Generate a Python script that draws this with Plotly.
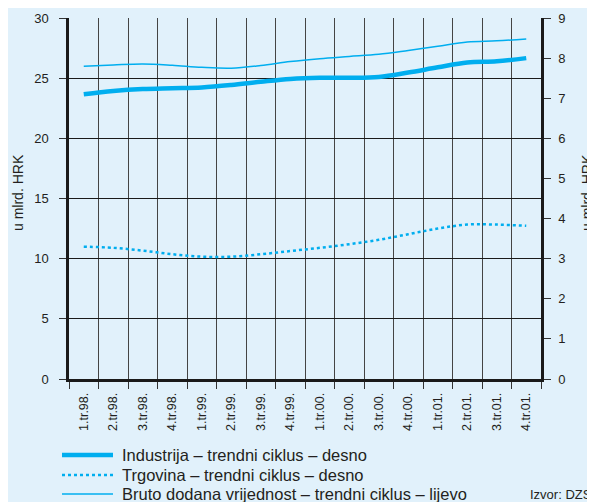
import plotly.graph_objects as go

categories = ["1.tr.98.", "2.tr.98.", "3.tr.98.", "4.tr.98.",
              "1.tr.99.", "2.tr.99.", "3.tr.99.", "4.tr.99.",
              "1.tr.00.", "2.tr.00.", "3.tr.00.", "4.tr.00.",
              "1.tr.01.", "2.tr.01.", "3.tr.01.", "4.tr.01."]

industrija = [7.10, 7.18, 7.23, 7.25, 7.27, 7.33, 7.41, 7.48,
              7.51, 7.51, 7.53, 7.64, 7.77, 7.89, 7.92, 8.00]
trgovina = [3.30, 3.27, 3.20, 3.11, 3.05, 3.05, 3.11, 3.19,
            3.27, 3.36, 3.47, 3.61, 3.75, 3.85, 3.85, 3.82]
bruto = [26.00, 26.10, 26.18, 26.07, 25.90, 25.83, 26.05, 26.38,
         26.62, 26.80, 26.98, 27.30, 27.65, 28.00, 28.10, 28.26]

legend_names = ["Industrija – trendni ciklus – desno",
                "Trgovina – trendni ciklus – desno",
                "Bruto dodana vrijednost – trendni ciklus – lijevo"]
source_text = "Izvor: DZS"
y_title = "u mlrd. HRK"

left_ticks = [0, 5, 10, 15, 20, 25, 30]
right_ticks = [0, 1, 2, 3, 4, 5, 6, 7, 8, 9]

BG = "#E1F1FB"
LINE = "#00AEEF"
FONT = "Liberation Sans, Arial, sans-serif"
TXT = "#231F20"

# page body has an 8px margin: figure coordinates = screen - 8
OFF = 8
W, H = 595 - OFF, 502 - OFF
L, R, T, B = 61, 54, 10, 123
PW, PH = W - L - R, H - T - B


def px(x):
    return (x - OFF - L) / PW


def py(y):
    return (H - B - (y - OFF)) / PH


fig = go.Figure()
fig.add_trace(go.Scatter(x=categories, y=bruto, mode="lines", yaxis="y",
                         line=dict(color=LINE, width=1.5, shape="spline"),
                         name=legend_names[2], showlegend=False))
fig.add_trace(go.Scatter(x=categories, y=industrija, mode="lines", yaxis="y2",
                         line=dict(color=LINE, width=4.5, shape="spline"),
                         name=legend_names[0], showlegend=False))
fig.add_trace(go.Scatter(x=categories, y=trgovina, mode="lines", yaxis="y2",
                         line=dict(color=LINE, width=2.5, dash="dot", shape="spline"),
                         name=legend_names[1], showlegend=False))

# manual legend (screen coordinates)
leg_y = [455, 475, 494]
leg_dash = ["solid", "dot", "solid"]
leg_w = [4.5, 2.5, 1.5]
for i, name in enumerate(legend_names):
    fig.add_shape(type="line", xref="paper", yref="paper",
                  x0=px(62), x1=px(113), y0=py(leg_y[i]), y1=py(leg_y[i]),
                  line=dict(color=LINE, width=leg_w[i], dash=leg_dash[i]))
    fig.add_annotation(text=name, xref="paper", yref="paper",
                       x=px(120), y=py(leg_y[i]),
                       xanchor="left", yanchor="middle", showarrow=False,
                       font=dict(family=FONT, size=16.5, color=TXT))

fig.add_annotation(text=source_text, xref="paper", yref="paper",
                   x=px(594), y=py(494),
                   xanchor="right", yanchor="middle", showarrow=False,
                   font=dict(family=FONT, size=13, color=TXT))

# axis titles (placed as in the reference)
for xs in (18, 587):
    fig.add_annotation(text=y_title, xref="paper", yref="paper",
                       x=px(xs), y=py(193), textangle=-90,
                       xanchor="center", yanchor="middle", showarrow=False,
                       font=dict(family=FONT, size=14, color=TXT))

fig.update_layout(
    width=W, height=H,
    margin=dict(l=L, r=R, t=T, b=B, autoexpand=False),
    paper_bgcolor=BG, plot_bgcolor=BG,
    font=dict(family=FONT, size=13, color=TXT),
    xaxis=dict(type="category", tickson="boundaries", range=[-0.5, 15.5],
               tickangle=-90, ticks="outside", ticklen=7, tickcolor="#333",
               ticklabelstandoff=6, automargin=False,
               showline=True, linecolor="#1a1a1a", linewidth=2.5,
               showgrid=True, gridcolor="#444444", gridwidth=1,
               tickfont=dict(size=12.5)),
    yaxis=dict(range=[0, 30], tickvals=left_ticks, ticks="outside", ticklen=7,
               tickcolor="#333", showline=True, linecolor="#1a1a1a", linewidth=2.5,
               ticklabelstandoff=8, automargin=False,
               showgrid=True, gridcolor="#1a1a1a", gridwidth=1, zeroline=False),
    yaxis2=dict(range=[0, 9], tickvals=right_ticks, overlaying="y", side="right",
                ticks="outside", ticklen=7, tickcolor="#333",
                ticklabelstandoff=5, automargin=False,
                showline=True, linecolor="#1a1a1a", linewidth=2.5,
                showgrid=False, zeroline=False),
)

fig.write_html("out.html")
